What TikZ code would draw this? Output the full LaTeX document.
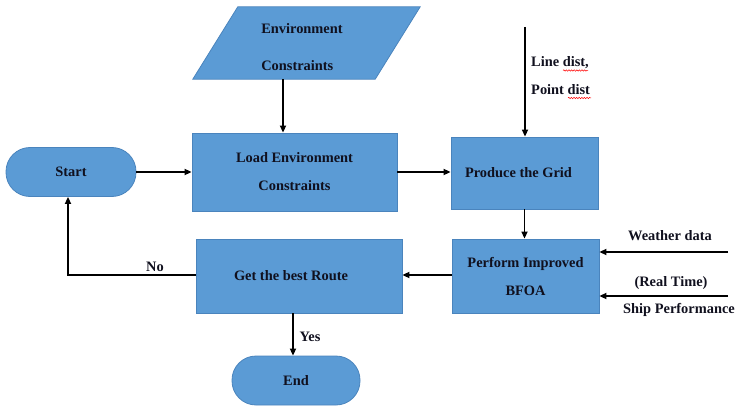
\documentclass[tikz,border=0pt]{standalone}
\usepackage{fontspec}
\setmainfont{Liberation Serif}
\usetikzlibrary{arrows.meta,decorations.pathmorphing}
\definecolor{boxfill}{HTML}{5B9BD5}
\definecolor{boxline}{HTML}{4A84BD}
\definecolor{ink}{HTML}{10101E}
\begin{document}
\begin{tikzpicture}[x=1pt,y=-1pt,
  font=\fontsize{14.4}{28}\selectfont\bfseries, text=ink,
  proc/.style={draw=boxline, fill=boxfill, line width=0.8pt, inner sep=0pt, align=center},
  term/.style={proc, rounded corners=24pt},
  frame/.style={inner sep=0pt},
  lbl/.style={inner sep=0pt},
  arr/.style={draw=black, line width=1.6pt, -{Triangle[length=7pt,width=6pt]}},
  spell/.style={draw=red, line width=0.5pt, decorate,
    decoration={snake, amplitude=0.7pt, segment length=2.6pt}}]
\useasboundingbox (0,0) rectangle (736,406);

% input parallelogram
\node[frame, minimum width=227pt, minimum height=72pt] (env) at (306.5,43) {};
\filldraw[draw=boxline, fill=boxfill, line width=0.8pt]
  (env.south west) -- ([xshift=45pt]env.north west) -- (env.north east)
  -- ([xshift=-45pt]env.south east) -- cycle;
\node[lbl, align=left, font=\fontsize{14.4}{37}\selectfont\bfseries] (envtxt) at (302,47.5)
  {Environment\\Constraints};

% process boxes and terminals
\node[term, minimum width=130pt, minimum height=49pt] (start) at (71,172) {Start};
\node[proc, minimum width=205pt, minimum height=78pt] (load) at (294.5,172)
  {Load Environment\\Constraints};
\node[proc, minimum width=147pt, minimum height=72pt] (grid) at (524.5,173)
  {\hspace*{-12pt}Produce the Grid};
\node[proc, minimum width=147pt, minimum height=74pt] (perf) at (525.5,276)
  {Perform Improved\\BFOA};
\node[proc, minimum width=206pt, minimum height=74pt] (get) at (299,276)
  {\hspace*{-16pt}Get the best Route};
\node[term, minimum width=128pt, minimum height=49pt] (end) at (296,380.5) {End};

% external inputs
\coordinate (distin) at (525,27);
\coordinate (wxin) at (728,252);
\coordinate (shipin) at (728,296);

% connectors
\draw[arr] ([xshift=-23.5pt]env.south) -- ([xshift=-23.5pt]env.south |- load.north);
\draw[arr] (start.east) -- (start.east -| load.west);
\draw[arr] (load.east) -- (load.east -| grid.west);
\draw[arr] (distin) -- (distin |- grid.north);
\draw[arr] (grid.south) -- (grid.south |- perf.north);
\draw[arr] (wxin) -- (wxin -| perf.east);
\draw[arr] (shipin) -- (shipin -| perf.east);
\draw[arr] ([yshift=1pt]perf.west) -- ([yshift=1pt]get.east);
\draw[arr] ([yshift=1pt]get.west) -| ([xshift=-3pt]start.south);
\draw[arr] ([xshift=-6pt]get.south) -- ([xshift=-6pt]get.south |- end.north);

% labels
\node[lbl, anchor=west] (ld1) at (531,63) {Line dist,};
\node[lbl, anchor=west] (ld2) at (531,90) {Point dist};
\draw[spell] (563,70.5) -- (588,70.5);
\draw[spell] (568,98) -- (591,98);
\node[lbl] (wx) at (670,236) {Weather data};
\node[lbl] (rt) at (671,283) {(Real Time)};
\node[lbl] (ship) at (679,310) {Ship Performance};
\node[lbl] (no) at (155,267) {No};
\node[lbl] (yes) at (310,337) {Yes};
\end{tikzpicture}
\end{document}
